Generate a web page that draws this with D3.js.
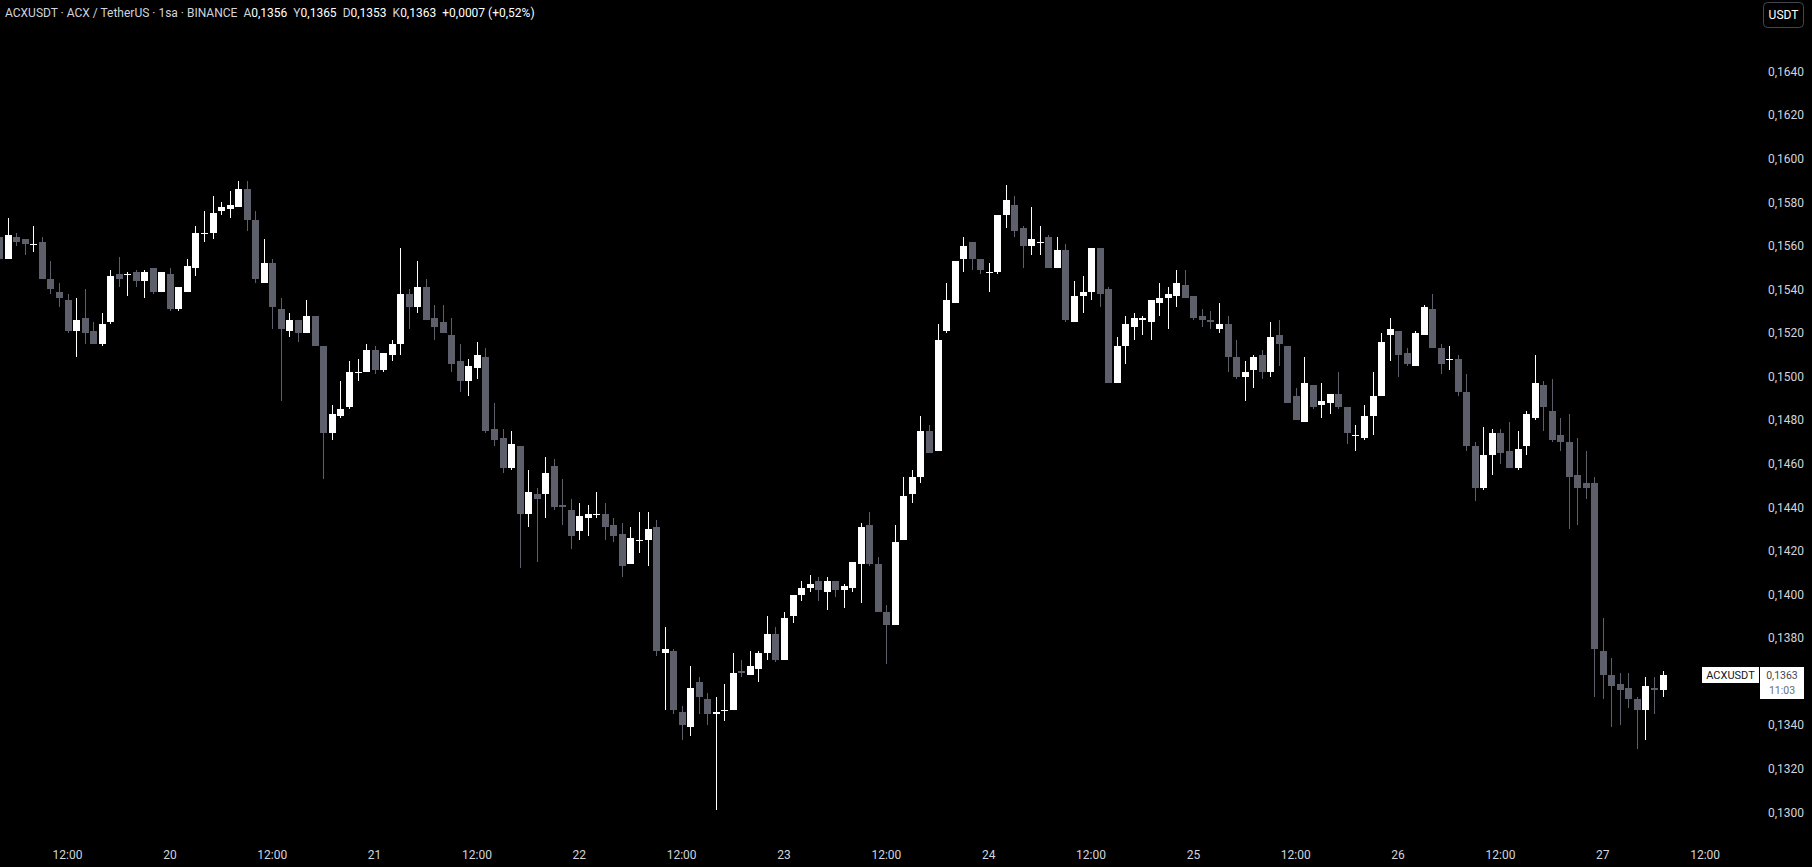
<!DOCTYPE html>
<html>
<head>
<meta charset="utf-8">
<script src="https://cdn.jsdelivr.net/npm/d3@7/dist/d3.min.js"></script>
<style>
 body { margin: 0; background: #000; overflow: hidden; }
 text { font-family: Roboto, "Noto Sans", sans-serif; }
</style>
</head>
<body>
<svg id="chart"></svg>
<script>
// hourly candles, first one at 19th 04:00
var startTime = "2025-03-19T04:00:00Z";

var open = [
 .1564,.1554,.1564,.1563,.1561,.1562,.1545,.1539,.1535,.1521,
 .1527,.1521,.1515,.1525,.1547,.1547,.1548,.1544,.1550,.1539,
 .1547,.1531,.1539,.1550,.1566,.1566,.1576,.1577,.1578,.1586,
 .1572,.1543,.1552,.1531,.1521,.1526,.1520,.1528,.1514,.1474,
 .1482,.1486,.1502,.1502,.1512,.1503,.1510,.1515,.1538,.1532,
 .1541,.1527,.1525,.1519,.1507,.1498,.1504,.1509,.1476,.1472,
 .1458,.1468,.1437,.1446,.1446,.1459,.1441,.1439,.1429,.1435,
 .1437,.1437,.1432,.1428,.1414,.1425,.1425,.1431,.1373,.1374,
 .1346,.1339,.1360,.1352,.1345,.1347,.1347,.1365,.1363,.1366,
 .1373,.1382,.1370,.1390,.1400,.1403,.1406,.1401,.1406,.1402,
 .1403,.1414,.1432,.1414,.1392,.1386,.1425,.1446,.1454,.1475,
 .1466,.1521,.1534,.1554,.1562,.1554,.1548,.1548,.1574,.1579,
 .1568,.1560,.1562,.1564,.1550,.1558,.1525,.1537,.1539,.1559,
 .1540,.1497,.1514,.1523,.1526,.1525,.1534,.1536,.1537,.1542,
 .1537,.1528,.1526,.1522,.1524,.1509,.1500,.1503,.1510,.1502,
 .1519,.1514,.1491,.1479,.1496,.1487,.1488,.1492,.1486,.1473,
 .1472,.1482,.1491,.1519,.1521,.1511,.1505,.1519,.1531,.1513,
 .1508,.1508,.1493,.1468,.1449,.1464,.1474,.1466,.1458,.1468,
 .1481,.1496,.1484,.1473,.1470,.1455,.1451,.1451,.1374,.1363,
 .1359,.1357,.1352,.1347,.1357,.1356
];
var high = [
 .1566,.1573,.1566,.1563,.1569,.1564,.1553,.1543,.1538,.1536,
 .1540,.1525,.1529,.1549,.1555,.1548,.1549,.1549,.1550,.1548,
 .1550,.1541,.1554,.1569,.1576,.1583,.1580,.1585,.1590,.1590,
 .1576,.1563,.1554,.1536,.1529,.1526,.1535,.1528,.1514,.1487,
 .1498,.1507,.1508,.1515,.1514,.1511,.1517,.1559,.1540,.1553,
 .1545,.1533,.1533,.1527,.1515,.1508,.1516,.1513,.1488,.1476,
 .1475,.1468,.1457,.1449,.1463,.1462,.1453,.1444,.1442,.1441,
 .1447,.1442,.1435,.1433,.1431,.1438,.1438,.1434,.1385,.1375,
 .1349,.1367,.1362,.1355,.1353,.1359,.1373,.1370,.1374,.1374,
 .1390,.1385,.1392,.1400,.1406,.1409,.1408,.1408,.1406,.1405,
 .1415,.1433,.1438,.1417,.1395,.1432,.1454,.1457,.1482,.1478,
 .1524,.1543,.1553,.1564,.1562,.1554,.1552,.1574,.1588,.1583,
 .1569,.1578,.1569,.1565,.1564,.1561,.1544,.1546,.1559,.1559,
 .1541,.1518,.1528,.1529,.1528,.1535,.1543,.1541,.1549,.1549,
 .1537,.1531,.1530,.1534,.1528,.1517,.1507,.1510,.1512,.1525,
 .1526,.1514,.1495,.1509,.1496,.1497,.1492,.1502,.1486,.1478,
 .1487,.1502,.1520,.1527,.1521,.1513,.1521,.1533,.1538,.1515,
 .1514,.1510,.1501,.1470,.1477,.1476,.1476,.1479,.1475,.1484,
 .1510,.1498,.1499,.1481,.1483,.1472,.1466,.1454,.1389,.1371,
 .1364,.1364,.1353,.1362,.1362,.1365
];
var low = [
 .1552,.1554,.1560,.1556,.1557,.1545,.1538,.1532,.1520,.1509,
 .1515,.1515,.1514,.1524,.1541,.1537,.1541,.1536,.1538,.1539,
 .1530,.1530,.1539,.1546,.1562,.1563,.1574,.1573,.1578,.1567,
 .1543,.1543,.1522,.1489,.1518,.1516,.1520,.1514,.1453,.1471,
 .1481,.1485,.1498,.1502,.1501,.1502,.1507,.1510,.1522,.1529,
 .1526,.1517,.1520,.1502,.1493,.1491,.1499,.1474,.1468,.1456,
 .1457,.1412,.1431,.1415,.1435,.1439,.1432,.1421,.1425,.1427,
 .1435,.1425,.1424,.1408,.1414,.1419,.1413,.1372,.1347,.1345,
 .1333,.1335,.1345,.1340,.1301,.1342,.1347,.1362,.1363,.1360,
 .1370,.1369,.1370,.1387,.1397,.1401,.1397,.1393,.1399,.1394,
 .1401,.1396,.1413,.1392,.1368,.1386,.1425,.1442,.1451,.1465,
 .1466,.1520,.1534,.1548,.1549,.1547,.1539,.1547,.1568,.1564,
 .1550,.1556,.1556,.1550,.1550,.1525,.1525,.1529,.1535,.1532,
 .1497,.1497,.1506,.1517,.1519,.1517,.1528,.1522,.1532,.1536,
 .1526,.1523,.1522,.1520,.1502,.1499,.1489,.1495,.1499,.1500,
 .1505,.1488,.1480,.1479,.1485,.1481,.1483,.1485,.1469,.1466,
 .1471,.1473,.1491,.1507,.1500,.1505,.1505,.1519,.1513,.1501,
 .1503,.1491,.1466,.1443,.1448,.1455,.1460,.1458,.1457,.1464,
 .1480,.1475,.1470,.1466,.1430,.1432,.1444,.1353,.1352,.1339,
 .1340,.1348,.1329,.1333,.1345,.1353
];
var close = [
 .1554,.1565,.1562,.1561,.1561,.1545,.1540,.1536,.1521,.1526,
 .1520,.1515,.1524,.1546,.1545,.1547,.1544,.1548,.1539,.1548,
 .1531,.1541,.1551,.1566,.1566,.1575,.1578,.1579,.1586,.1572,
 .1545,.1552,.1532,.1522,.1526,.1520,.1528,.1514,.1474,.1483,
 .1485,.1502,.1502,.1512,.1503,.1511,.1515,.1538,.1532,.1541,
 .1526,.1523,.1520,.1506,.1498,.1505,.1510,.1475,.1471,.1458,
 .1469,.1437,.1447,.1444,.1456,.1440,.1440,.1427,.1436,.1437,
 .1437,.1431,.1427,.1413,.1426,.1425,.1430,.1374,.1375,.1347,
 .1340,.1357,.1353,.1345,.1346,.1347,.1364,.1364,.1367,.1373,
 .1382,.1370,.1389,.1400,.1403,.1405,.1402,.1406,.1402,.1404,
 .1415,.1431,.1414,.1392,.1386,.1424,.1445,.1454,.1475,.1465,
 .1517,.1535,.1553,.1560,.1554,.1549,.1548,.1574,.1581,.1567,
 .1560,.1563,.1562,.1550,.1558,.1526,.1537,.1539,.1559,.1538,
 .1497,.1514,.1524,.1527,.1527,.1535,.1536,.1538,.1543,.1536,
 .1527,.1526,.1525,.1524,.1509,.1500,.1502,.1509,.1502,.1518,
 .1515,.1488,.1480,.1497,.1486,.1489,.1492,.1486,.1474,.1473,
 .1482,.1491,.1516,.1522,.1510,.1506,.1520,.1532,.1513,.1506,
 .1508,.1493,.1468,.1449,.1464,.1474,.1465,.1458,.1467,.1483,
 .1497,.1486,.1471,.1470,.1454,.1449,.1449,.1375,.1363,.1358,
 .1356,.1352,.1347,.1358,.1356,.1363
];

var priceTicks = [.1300,.1320,.1340,.1360,.1380,.1400,.1420,.1440,.1460,
 .1480,.1500,.1520,.1540,.1560,.1580,.1600,.1620,.1640];

var timeTicks = ["2025-03-19T12:00:00Z","2025-03-20T00:00:00Z","2025-03-20T12:00:00Z",
 "2025-03-21T00:00:00Z","2025-03-21T12:00:00Z","2025-03-22T00:00:00Z","2025-03-22T12:00:00Z",
 "2025-03-23T00:00:00Z","2025-03-23T12:00:00Z","2025-03-24T00:00:00Z","2025-03-24T12:00:00Z",
 "2025-03-25T00:00:00Z","2025-03-25T12:00:00Z","2025-03-26T00:00:00Z","2025-03-26T12:00:00Z",
 "2025-03-27T00:00:00Z","2025-03-27T12:00:00Z"];

var headerTitle = "ACXUSDT · ACX / TetherUS · 1sa · BINANCE";
var countdown = "11:03";

var width = 1812,
 height = 867;

var upColor = "#ffffff",
 downColor = "#5d606b",
 textColor = "#d1d4dc";

var tr = d3.formatLocale({decimal: ",", thousands: ".", grouping: [3], currency: ["", ""]});
var fmt = tr.format(".4f");
var fmtSigned = tr.format("+.4f");
var fmtPct = tr.format("+.2f");

var svg = d3.select("#chart")
 .attr("width", width)
 .attr("height", height)
 .style("background", "#000");

var candles = open.map(function(o, i) {
 return {
  t: d3.utcHour.offset(new Date(startTime), i),
  o: o, h: high[i], l: low[i], c: close[i]
 };
});

var x = d3.scaleUtc()
 .domain([new Date("2025-03-20T00:00:00Z"), new Date("2025-03-27T00:00:00Z")])
 .range([169.9, 1602.8]);

var y = d3.scaleLinear()
 .domain([.1300, .1640])
 .range([812.4, 71.6]);

var plot = svg.append("g");

var g = plot.selectAll(".candle")
 .data(candles)
 .enter().append("g")
 .attr("class", "candle")
 .attr("fill", function(d) { return d.c >= d.o ? upColor : downColor; });

g.append("rect")
 .attr("x", function(d) { return Math.round(x(d.t)); })
 .attr("width", 1)
 .attr("y", function(d) { return Math.round(y(d.h)); })
 .attr("height", function(d) { return Math.max(1, Math.round(y(d.l)) - Math.round(y(d.h))); });

g.append("rect")
 .attr("x", function(d) { return Math.round(x(d.t)) - 3; })
 .attr("width", 7)
 .attr("y", function(d) { return Math.round(y(Math.max(d.o, d.c))); })
 .attr("height", function(d) {
  return Math.max(1, Math.round(y(Math.min(d.o, d.c))) - Math.round(y(Math.max(d.o, d.c))));
 });

// price axis
svg.append("g")
 .selectAll("text")
 .data(priceTicks)
 .enter().append("text")
 .attr("x", 1768)
 .attr("y", function(d) { return y(d); })
 .attr("dy", "0.35em")
 .attr("fill", textColor)
 .attr("font-size", 12)
 .text(function(d) { return fmt(d); });

// time axis
svg.append("g")
 .selectAll("text")
 .data(timeTicks)
 .enter().append("text")
 .attr("x", function(d) { return x(new Date(d)); })
 .attr("y", 855)
 .attr("dy", "0.35em")
 .attr("text-anchor", "middle")
 .attr("fill", textColor)
 .attr("font-size", 12)
 .text(function(d) {
  var t = new Date(d);
  return t.getUTCHours() === 0 ? String(t.getUTCDate()) : d3.utcFormat("%H:%M")(t);
 });

// header
var last = candles[candles.length - 1],
 prev = candles[candles.length - 2];
var change = last.c - prev.c;
var head = svg.append("text")
 .attr("x", 5)
 .attr("y", 13)
 .attr("dy", "0.35em")
 .attr("font-size", 12)
 .attr("fill", textColor);
head.append("tspan").text(headerTitle);
[["A", last.o], ["Y", last.h], ["D", last.l], ["K", last.c]].forEach(function(p) {
 head.append("tspan").attr("dx", 6).text(p[0]);
 head.append("tspan").attr("fill", upColor).text(fmt(p[1]));
});
head.append("tspan").attr("dx", 6).attr("fill", upColor)
 .text(fmtSigned(change) + " (" + fmtPct(change / prev.c * 100) + "%)");

// currency button
svg.append("rect")
 .attr("x", 1763.5).attr("y", 2.5)
 .attr("width", 40).attr("height", 25)
 .attr("rx", 4)
 .attr("fill", "#000")
 .attr("stroke", "#434651");
svg.append("text")
 .attr("x", 1783.5).attr("y", 15)
 .attr("dy", "0.35em")
 .attr("text-anchor", "middle")
 .attr("font-size", 12)
 .attr("fill", "#ffffff")
 .text("USDT");

// last price labels
var ly = Math.round(y(last.c));
svg.append("rect")
 .attr("x", 1702).attr("y", ly - 8)
 .attr("width", 57).attr("height", 16)
 .attr("fill", "#ffffff");
svg.append("text")
 .attr("x", 1730.5).attr("y", ly)
 .attr("dy", "0.35em")
 .attr("text-anchor", "middle")
 .attr("font-size", 11)
 .attr("fill", "#131722")
 .text("ACXUSDT");
svg.append("rect")
 .attr("x", 1760).attr("y", ly - 8)
 .attr("width", 44).attr("height", 32)
 .attr("fill", "#ffffff");
var priceLabel = svg.append("text")
 .attr("y", ly + 3.5)
 .attr("text-anchor", "middle")
 .attr("font-size", 10.5);
priceLabel.append("tspan")
 .attr("x", 1782)
 .attr("fill", "#434651")
 .text(fmt(last.c));
priceLabel.append("tspan")
 .attr("x", 1782)
 .attr("dy", 15)
 .attr("fill", "#6a6d78")
 .text(countdown);
</script>
</body>
</html>
